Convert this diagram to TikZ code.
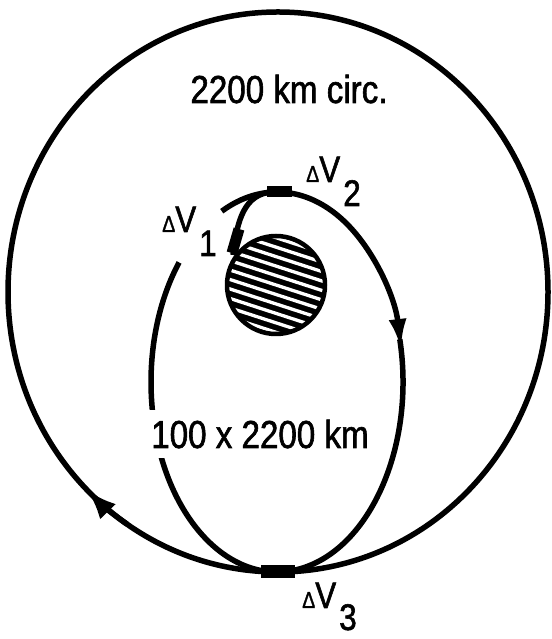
\documentclass[tikz,border=0pt]{standalone}
\usepackage{fontspec}
\setmainfont{Liberation Sans}
\newfontfamily\labfont[FakeStretch=0.85, FakeBold=1.5]{Liberation Sans}
\usetikzlibrary{arrows.meta}
\begin{document}
\begin{tikzpicture}[x=1pt,y=1pt,
  orbit/.style={line width=5.5pt},
  burn/.style={line width=11pt},
  big/.style={font=\labfont\fontsize{39}{39}\selectfont, inner sep=0pt},
  dv/.style={font=\labfont\fontsize{37}{37}\selectfont, inner sep=0pt, anchor=base west},
  bigtip/.style={-{Latex[length=30pt,width=22pt]}},
  smalltip/.style={-{Latex[length=30pt,width=18pt]}}]
\useasboundingbox (0,0) rectangle (551,639);
\coordinate (oc) at (278,347);
\coordinate (ec) at (277,257);
\coordinate (pc) at (276,354);
% outer circular orbit
\draw[orbit] (oc) ellipse [x radius=270, y radius=280];
\draw[orbit, bigtip] ([shift={(oc)}]236:270 and 280) arc[start angle=236, end angle=225, x radius=270, y radius=280];
% transfer ellipse
\draw[orbit, smalltip] ([shift={(ec)}]116:126 and 190) arc[start angle=116, end angle=10, x radius=126, y radius=190];
\draw[orbit] ([shift={(ec)}]13:126 and 190) arc[start angle=13, end angle=-219, x radius=126, y radius=190];
% ascent path
\coordinate (asc0) at (233,384);
\coordinate (asc1) at (272,447);
\draw[orbit] (asc0) .. controls (237,420) and (245,445) .. (asc1);
% planet
\begin{scope}
  \clip (pc) circle (49);
  \fill (pc) circle (49);
  \begin{scope}[shift={(pc)}, rotate=-18]
    \foreach \i in {-7,...,7} \draw[white, line width=3.3pt] (-70,\i*9) -- (70,\i*9);
  \end{scope}
\end{scope}
\draw[line width=4.5pt] (pc) circle (49);
% burns
\draw[burn] (232,386) -- (239,410);
\draw[burn] (267,447) -- (292,447);
\draw[line width=13pt] (261,67) -- (295,67);
% labels
\node[big, anchor=base] (circ) at (289,536) {2200 km circ.};
\node[big, anchor=base, fill=white, inner xsep=2pt, inner ysep=10pt] (ell) at (260,191) {100 x 2200 km};
\node[dv] (dv1) at (162,407) {{\fontsize{23}{23}\selectfont Δ}V\kern3pt\raisebox{-24pt}{1}};
\node[dv] (dv2) at (306,457) {{\fontsize{23}{23}\selectfont Δ}V\kern3pt\raisebox{-24pt}{2}};
\node[dv] (dv3) at (302,31) {{\fontsize{23}{23}\selectfont Δ}V\kern3pt\raisebox{-22pt}{3}};
\end{tikzpicture}
\end{document}
